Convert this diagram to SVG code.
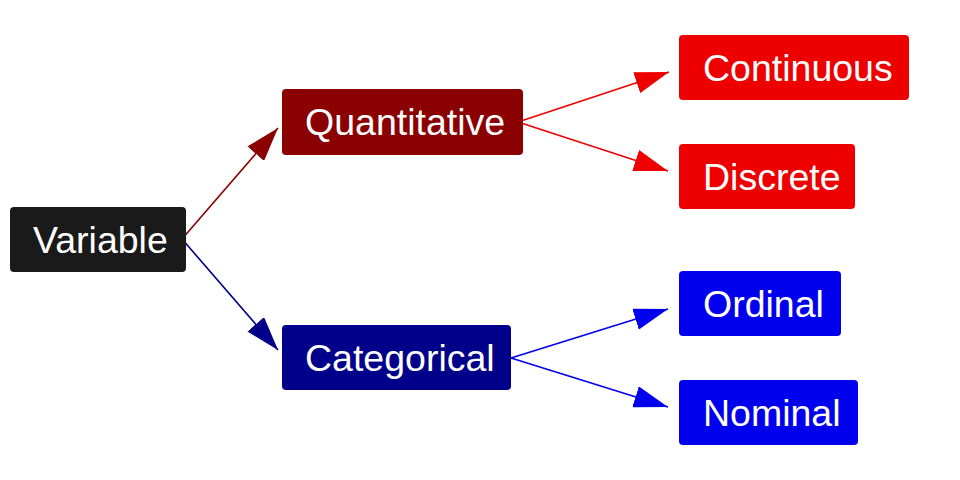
<svg xmlns="http://www.w3.org/2000/svg" width="960" height="480" viewBox="0 0 960 480">
<style>
.lbl{font-family:"Liberation Sans",Arial,sans-serif;font-size:37.5px;fill:#ffffff}
.edge{fill:none;stroke-width:1.6}
</style>
<defs>
<marker id="hR" markerUnits="userSpaceOnUse" markerWidth="36" markerHeight="22" refX="34" refY="11" orient="auto"><path d="M0,0 L34,11 L0,22 z" fill="#8b0000"/></marker>
<marker id="hB" markerUnits="userSpaceOnUse" markerWidth="36" markerHeight="22" refX="34" refY="11" orient="auto"><path d="M0,0 L34,11 L0,22 z" fill="#00008b"/></marker>
<marker id="hr" markerUnits="userSpaceOnUse" markerWidth="36" markerHeight="22" refX="34" refY="11" orient="auto"><path d="M0,0 L34,11 L0,22 z" fill="#ee0000"/></marker>
<marker id="hb" markerUnits="userSpaceOnUse" markerWidth="36" markerHeight="22" refX="34" refY="11" orient="auto"><path d="M0,0 L34,11 L0,22 z" fill="#0000ee"/></marker>
</defs>
<rect width="960" height="480" fill="#ffffff"/>
<g id="connectors">
<line class="edge" x1="182" y1="239" x2="278" y2="128" stroke="#8b0000" marker-end="url(#hR)"/>
<line class="edge" x1="182" y1="239" x2="278" y2="350" stroke="#00008b" marker-end="url(#hB)"/>
<line class="edge" x1="518" y1="122" x2="669" y2="72" stroke="#ee0000" marker-end="url(#hr)"/>
<line class="edge" x1="518" y1="122" x2="668" y2="171" stroke="#ee0000" marker-end="url(#hr)"/>
<line class="edge" x1="511" y1="358" x2="668" y2="309" stroke="#0000ee" marker-end="url(#hb)"/>
<line class="edge" x1="511" y1="358" x2="668" y2="407" stroke="#0000ee" marker-end="url(#hb)"/>
</g>
<g id="variable"><rect x="10" y="207" width="176" height="65" rx="4" fill="#1a1a1a"/><text class="lbl" x="33" y="253">Variable</text></g>
<g id="quantitative"><rect x="282" y="89" width="241" height="66" rx="4" fill="#8b0000"/><text class="lbl" x="305" y="135">Quantitative</text></g>
<g id="categorical"><rect x="282" y="325" width="229" height="65" rx="4" fill="#00008b"/><text class="lbl" x="305" y="371">Categorical</text></g>
<g id="continuous"><rect x="679" y="35" width="230" height="65" rx="4" fill="#ee0000"/><text class="lbl" x="703" y="81">Continuous</text></g>
<g id="discrete"><rect x="679" y="144" width="176" height="65" rx="4" fill="#ee0000"/><text class="lbl" x="703" y="190">Discrete</text></g>
<g id="ordinal"><rect x="679" y="271" width="162" height="65" rx="4" fill="#0000ee"/><text class="lbl" x="703" y="317">Ordinal</text></g>
<g id="nominal"><rect x="679" y="380" width="179" height="65" rx="4" fill="#0000ee"/><text class="lbl" x="703" y="426">Nominal</text></g>
</svg>
